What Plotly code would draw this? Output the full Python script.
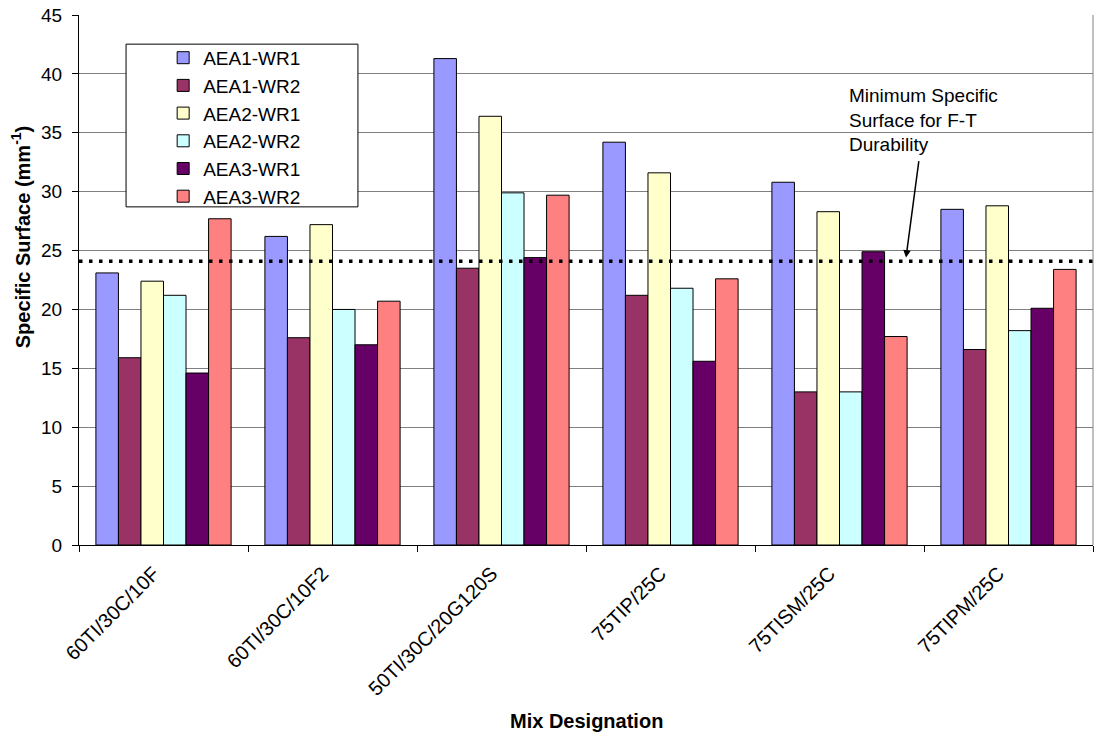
import plotly.graph_objects as go

categories = ["60TI/30C/10F", "60TI/30C/10F2", "50TI/30C/20G120S",
              "75TIP/25C", "75TISM/25C", "75TIPM/25C"]

series_names = ["AEA1-WR1", "AEA1-WR2", "AEA2-WR1", "AEA2-WR2", "AEA3-WR1", "AEA3-WR2"]

aea1_wr1 = [23.1, 26.2, 41.3, 34.2, 30.8, 28.5]
aea1_wr2 = [15.9, 17.6, 23.5, 21.2, 13.0, 16.6]
aea2_wr1 = [22.4, 27.2, 36.4, 31.6, 28.3, 28.8]
aea2_wr2 = [21.2, 20.0, 29.9, 21.8, 13.0, 18.2]
aea3_wr1 = [14.6, 17.0, 24.4, 15.6, 24.9, 20.1]
aea3_wr2 = [27.7, 20.7, 29.7, 22.6, 17.7, 23.4]

series_values = [aea1_wr1, aea1_wr2, aea2_wr1, aea2_wr2, aea3_wr1, aea3_wr2]
colors = ["#9999FF", "#993366", "#FFFFCC", "#CCFFFF", "#660066", "#FF8080"]

threshold = 24.1
y_ticks = [0, 5, 10, 15, 20, 25, 30, 35, 40, 45]

FONT = "Liberation Sans, Arial, sans-serif"

fig = go.Figure()
for name, vals, col in zip(series_names, series_values, colors):
    fig.add_trace(go.Bar(
        x=categories, y=vals, name=name,
        marker=dict(color=col, line=dict(color="black", width=1)),
    ))

fig.update_layout(
    width=1107, height=738,
    margin=dict(l=79, r=14, t=15, b=193),
    paper_bgcolor="white", plot_bgcolor="white",
    barmode="group", bargap=0.2, bargroupgap=0,
    font=dict(family=FONT, size=19, color="black"),
    showlegend=True,
    legend=dict(
        x=0.083, y=0.955, xanchor="left", yanchor="top",
        bgcolor="rgba(0,0,0,0)", borderwidth=0,
        font=dict(family=FONT, size=19, color="black"),
    ),
    xaxis=dict(
        type="category", showgrid=False, zeroline=False, automargin=False,
        showline=True, linecolor="black", linewidth=1,
        ticks="outside", tickson="boundaries", ticklen=6, tickcolor="black",
        tickangle=-45, tickfont=dict(family=FONT, size=20, color="black"),
        ticklabelshift=-10, ticklabelstandoff=8,
    ),
    yaxis=dict(
        range=[0, 45], tickvals=y_ticks, showgrid=True, gridcolor="#808080", gridwidth=1,
        zeroline=False, showline=True, linecolor="black", linewidth=1, automargin=False,
        ticks="outside", ticklen=6, tickcolor="black", ticklabelstandoff=6,
        tickfont=dict(family=FONT, size=19, color="black"),
    ),
    shapes=[
        # right plot border
        dict(type="line", xref="paper", yref="paper", x0=1, x1=1, y0=0, y1=1,
             line=dict(color="#808080", width=1)),
        # legend box
        dict(type="rect", xref="paper", yref="paper",
             x0=0.0464, x1=0.2751, y0=0.638, y1=0.945,
             line=dict(color="black", width=1), fillcolor="white", layer="above"),
        # threshold dotted line
        dict(type="line", xref="paper", yref="y", x0=0, x1=1.004, y0=threshold, y1=threshold,
             line=dict(color="black", width=3.5, dash="3.5px,6.5px"), layer="above"),
    ],
    annotations=[
        dict(text="<b>Specific Surface (mm<sup>-1</sup>)</b>", xref="paper", yref="paper",
             x=-0.058, y=0.581, xanchor="center", yanchor="middle", textangle=-90,
             showarrow=False, font=dict(family=FONT, size=20, color="black")),
        dict(text="<b>Mix Designation</b>", xref="paper", yref="paper",
             x=0.5, y=-0.333, xanchor="center", yanchor="middle",
             showarrow=False, font=dict(family=FONT, size=20, color="black")),
        dict(text="Minimum Specific<br>Surface for F-T<br>Durability", xref="paper", yref="y",
             x=0.757, y=39.25, xanchor="left", yanchor="top", align="left",
             showarrow=False, font=dict(family=FONT, size=19, color="black")),
        dict(text="", xref="paper", yref="y", x=0.8156, y=24.4,
             ax=13, ay=-98, axref="pixel", ayref="pixel",
             showarrow=True, arrowhead=2, arrowsize=1, arrowwidth=1.5, arrowcolor="black"),
    ],
)

fig.write_html("out.html", config={"displayModeBar": False},
               post_script="document.body.style.margin='0px';")
